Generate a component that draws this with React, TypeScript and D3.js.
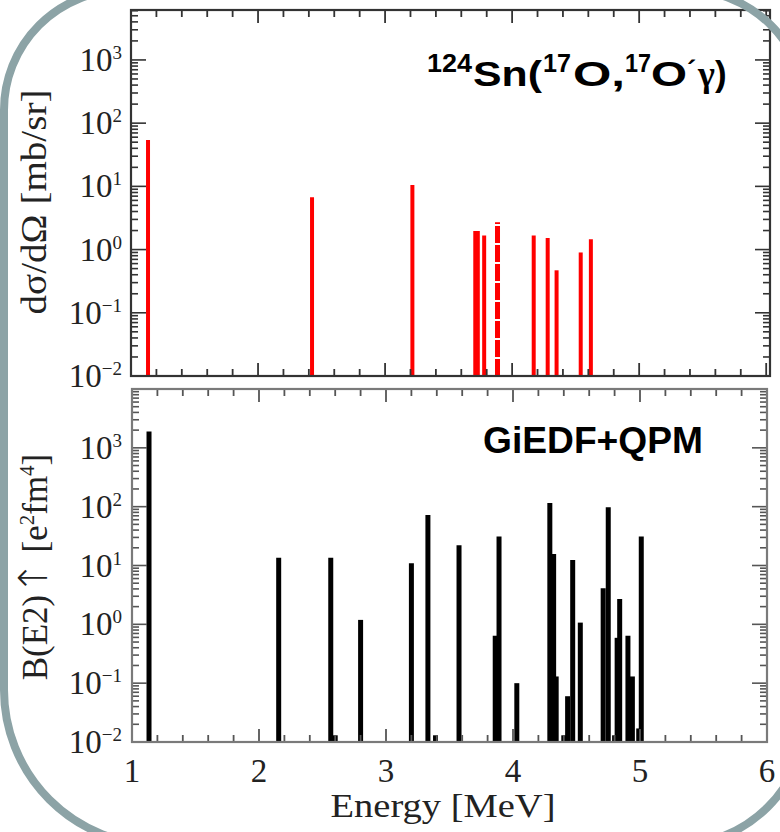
import React from "react";
import * as d3 from "d3";

// ---- data ----
// Top panel: measured cross sections dσ/dΩ [mb/sr]
const csEnergy = [1.134, 2.425, 3.215, 3.71, 3.73, 3.78, 4.17, 4.28, 4.35, 4.54, 4.62];
const csValue = [54, 6.7, 10.5, 1.97, 1.97, 1.67, 1.67, 1.52, 0.47, 0.9, 1.45];
const csDashedEnergy = [3.885];
const csDashedValue = [2.7];

// Bottom panel: GiEDF+QPM B(E2)↑ [e²fm⁴]
const beEnergy = [
  1.134, 2.155, 2.565, 2.60, 2.80, 3.20, 3.33, 3.39, 3.575, 3.86, 3.89, 4.03,
  4.29, 4.32, 4.34, 4.40, 4.43, 4.47, 4.53, 4.71, 4.75, 4.80, 4.82, 4.84,
  4.905, 4.94, 4.99, 5.01,
];
const beValue = [
  1890, 13.6, 13.6, 0.013, 1.19, 10.9, 72, 0.013, 22, 0.64, 31, 0.1,
  115, 15.7, 0.13, 0.013, 0.06, 12.4, 1.07, 4.1, 98, 0.013, 0.59, 2.7,
  0.64, 0.13, 0.017, 31,
];

const xTickLabels = [1, 2, 3, 4, 5, 6];
const topDecades = [-2, -1, 0, 1, 2, 3];
const bottomDecades = [-2, -1, 0, 1, 2, 3];

const serif = "'Liberation Serif', 'Times New Roman', serif";
const sans = "'Liberation Sans', Arial, sans-serif";

type PanelProps = {
  x: d3.ScaleLinear<number, number>;
  y: d3.ScaleLogarithmic<number, number>;
  frameColor: string;
  tickColor: string;
  decades: number[];
  showXLabels: boolean;
};

function minus(n: number) {
  return n < 0 ? "\u2212" + Math.abs(n) : String(n);
}

function Panel({ x, y, frameColor, tickColor, decades, showXLabels }: PanelProps) {
  const [x0, x1] = x.range();
  const [y0, y1] = y.range(); // y0 bottom, y1 top
  const [dMin, dMax] = y.domain();
  const xMinor = d3.range(1, 6.0001, 0.2).map((v) => +v.toFixed(2));
  const yTicks: { v: number; major: boolean }[] = [];
  for (let k = Math.floor(Math.log10(dMin)); k <= Math.ceil(Math.log10(dMax)); k++) {
    for (let m = 1; m <= 9; m++) {
      const v = m * Math.pow(10, k);
      if (v >= dMin * 0.999 && v <= dMax * 1.001) yTicks.push({ v, major: m === 1 });
    }
  }
  return (
    <g>
      {xMinor.map((v, i) => {
        const major = Math.abs(v - Math.round(v)) < 1e-6;
        const len = major ? 13 : 7;
        const px = x(v);
        if (px < x0 - 0.5 || px > x1 + 0.5) return null;
        return (
          <g key={"xt" + i} stroke={tickColor} strokeWidth={1.8}>
            <line x1={px} x2={px} y1={y0} y2={y0 - len} />
            <line x1={px} x2={px} y1={y1} y2={y1 + len} />
          </g>
        );
      })}
      {yTicks.map((t, i) => {
        const py = y(t.v);
        const len = t.major ? 15 : 7;
        return (
          <g key={"yt" + i} stroke={tickColor} strokeWidth={1.6}>
            <line x1={x0} x2={x0 + len} y1={py} y2={py} />
            <line x1={x1} x2={x1 - len} y1={py} y2={py} />
          </g>
        );
      })}
      {decades.map((k) => (
        <text
          key={"yl" + k}
          x={122}
          y={y(Math.pow(10, k)) + 11}
          textAnchor="end"
          fontFamily={serif}
          fontSize={33}
          fill="#222"
        >
          10
          <tspan fontSize={19} dy={-12}>
            {minus(k)}
          </tspan>
        </text>
      ))}
      {showXLabels &&
        xTickLabels.map((v) => (
          <text
            key={"xl" + v}
            x={x(v)}
            y={782}
            textAnchor="middle"
            fontFamily={serif}
            fontSize={33}
            fill="#222"
          >
            {v}
          </text>
        ))}
      <rect
        x={x0}
        y={y1}
        width={x1 - x0}
        height={y0 - y1}
        fill="none"
        stroke={frameColor}
        strokeWidth={2.2}
      />
    </g>
  );
}

export default function App() {
  const W = 780;
  const H = 832;

  const xTop = d3.scaleLinear().domain([1, 6.03]).range([131, 770]);
  const yTop = d3.scaleLog().domain([1e-2, Math.pow(10, 3.79)]).range([376, 10]);
  const xBot = d3.scaleLinear().domain([1, 6]).range([132, 767]);
  const yBot = d3.scaleLog().domain([1e-2, 1e4]).range([742, 389]);

  // decorative rounded frame
  const L = 4, T = -10, R = 806, B = 845;
  const rtl = 120, rtr = 120, rbr = 130, rbl = 155;
  const framePath =
    `M${L + rtl},${T} H${R - rtr} A${rtr},${rtr} 0 0 1 ${R},${T + rtr} ` +
    `V${B - rbr} A${rbr},${rbr} 0 0 1 ${R - rbr},${B} H${L + rbl} ` +
    `A${rbl},${rbl} 0 0 1 ${L},${B - rbl} V${T + rtl} A${rtl},${rtl} 0 0 1 ${L + rtl},${T} Z`;

  return (
    <svg
      width={W}
      height={H}
      viewBox={`0 0 ${W} ${H}`}
      style={{ position: "absolute", left: 0, top: 0, background: "#fff", overflow: "hidden" }}
    >
      <rect x={0} y={0} width={W} height={H} fill="#fff" />

      {/* top panel bars */}
      <g stroke="#ff0000" strokeWidth={4}>
        {csEnergy.map((e, i) => (
          <line key={"cs" + i} x1={xTop(e)} x2={xTop(e)} y1={yTop(1e-2)} y2={yTop(csValue[i])} />
        ))}
        {csDashedEnergy.map((e, i) => (
          <line
            key={"csd" + i}
            x1={xTop(e)}
            x2={xTop(e)}
            y1={yTop(1e-2)}
            y2={yTop(csDashedValue[i])}
            strokeWidth={5}
            strokeDasharray="17 2"
          />
        ))}
      </g>
      <Panel x={xTop} y={yTop} frameColor="#333" tickColor="#333" decades={topDecades} showXLabels={false} />

      {/* bottom panel bars */}
      <g stroke="#000" strokeWidth={5}>
        {beEnergy.map((e, i) => (
          <line key={"be" + i} x1={xBot(e)} x2={xBot(e)} y1={yBot(1e-2)} y2={yBot(beValue[i])} />
        ))}
      </g>
      <Panel x={xBot} y={yBot} frameColor="#7a7a7a" tickColor="#555" decades={bottomDecades} showXLabels={true} />

      {/* axis titles */}
      <text
        transform="translate(46,202) rotate(-90)"
        textAnchor="middle"
        fontFamily={serif}
        fontSize={35}
        fill="#222"
        textLength={225}
        lengthAdjust="spacingAndGlyphs"
      >
        dσ/dΩ [mb/sr]
      </text>
      <text
        transform="translate(47,567) rotate(-90)"
        textAnchor="middle"
        fontFamily={serif}
        fontSize={35}
        fill="#222"
      >
        B(E2)
        <tspan fontFamily="'DejaVu Sans', sans-serif" fontSize={40} fontWeight="200">↑</tspan>
        <tspan> [e</tspan>
        <tspan fontSize={21} dy={-13}>2</tspan>
        <tspan dy={13}>fm</tspan>
        <tspan fontSize={21} dy={-13}>4</tspan>
        <tspan dy={13}>]</tspan>
      </text>
      <text
        x={443}
        y={817}
        textAnchor="middle"
        fontFamily={serif}
        fontSize={33}
        fill="#222"
        textLength={225}
        lengthAdjust="spacingAndGlyphs"
      >
        Energy [MeV]
      </text>

      {/* panel titles */}
      <text fontFamily={sans} fontWeight="bold" fill="#000">
        <tspan x={427} y={72} fontSize={26} textLength={45} lengthAdjust="spacingAndGlyphs">124</tspan>
        <tspan x={473} y={86} fontSize={35} textLength={69} lengthAdjust="spacingAndGlyphs">Sn(</tspan>
        <tspan x={543} y={72} fontSize={26} textLength={28} lengthAdjust="spacingAndGlyphs">17</tspan>
        <tspan x={573} y={86} fontSize={35} textLength={52} lengthAdjust="spacingAndGlyphs">O,</tspan>
        <tspan x={625} y={72} fontSize={26} textLength={26} lengthAdjust="spacingAndGlyphs">17</tspan>
        <tspan x={651} y={86} fontSize={35} textLength={36} lengthAdjust="spacingAndGlyphs">O</tspan>
        <tspan x={687} y={80} fontSize={28}>´</tspan>
        <tspan x={698} y={86} fontSize={36} fontFamily={serif}>γ</tspan>
        <tspan x={715} y={86} fontSize={35}>)</tspan>
      </text>
      <text
        x={483}
        y={453}
        fontFamily={sans}
        fontWeight="bold"
        fontSize={36}
        fill="#000"
        textLength={220}
        lengthAdjust="spacingAndGlyphs"
      >
        GiEDF+QPM
      </text>

      {/* decorative rounded border */}
      <path d={framePath} fill="none" stroke="#8ca3a6" strokeWidth={8} />
    </svg>
  );
}
